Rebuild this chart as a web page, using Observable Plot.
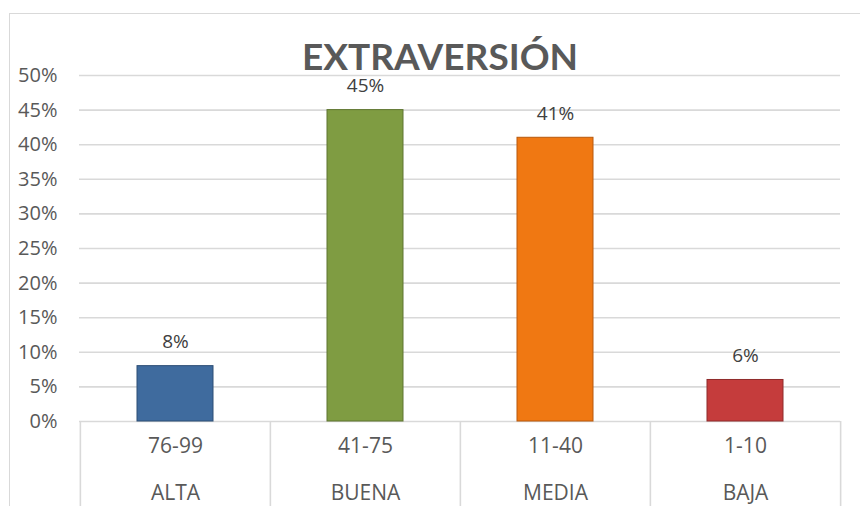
<!DOCTYPE html>
<html>
<head>
<meta charset="utf-8">
<script src="https://cdn.jsdelivr.net/npm/d3@7"></script>
<script src="https://cdn.jsdelivr.net/npm/@observablehq/plot@0.6"></script>
<style>
  html, body { margin: 0; padding: 0; background: #fff; }
  #chart { position: relative; width: 860px; height: 506px; overflow: hidden; }
  #frame { position: absolute; left: 9px; top: 13px; width: 880px; height: 520px; border: 1px solid #d9d9d9; box-sizing: border-box; }
  #chart svg { position: absolute; left: 0; top: 0; }
</style>
</head>
<body>
<div id="chart"><div id="frame"></div></div>
<script>
const levels = ["ALTA", "BUENA", "MEDIA", "BAJA"];
const ranges = ["76-99", "41-75", "11-40", "1-10"];
const values = [0.08, 0.45, 0.41, 0.06];
const fills = ["#3F6B9E", "#7F9C42", "#F07812", "#C53C3C"];
const strokes = ["#2C4E75", "#5E7530", "#B8590C", "#8E2A2A"];
const yTicks = [0, 0.05, 0.10, 0.15, 0.20, 0.25, 0.30, 0.35, 0.40, 0.45, 0.50];
const title = "EXTRAVERSIÓN";

const data = levels.map((l, i) => ({level: l, range: ranges[i], value: values[i], fill: fills[i], stroke: strokes[i]}));

const W = 860, H = 506, ML = 79, MR = 20, MT = 75, MB = 85;
const step = (W - ML - MR) / levels.length;
const font = "Open Sans, sans-serif";
const gray = "#595959";

const chart = Plot.plot({
  width: W, height: H,
  marginLeft: ML, marginRight: MR, marginTop: MT, marginBottom: MB,
  style: {fontFamily: font, background: "transparent", overflow: "visible"},
  x: {domain: levels, paddingInner: 0.6, paddingOuter: 0.3, axis: null},
  y: {domain: [0, 0.5], axis: null},
  marks: [
    Plot.ruleY(yTicks, {y: d => d, stroke: "#d9d9d9", strokeWidth: 1.6}),
    Plot.text(yTicks, {y: d => d, frameAnchor: "left", dx: -22, text: d => Math.round(d * 100) + "%", textAnchor: "end", fill: gray, fontSize: 20}),
    Plot.ruleX(levels, {x: d => d, dx: -step / 2, y1: 0, y2: -0.14, stroke: "#d9d9d9", strokeWidth: 1.6}),
    Plot.ruleX([levels[levels.length - 1]], {x: d => d, dx: step / 2, y1: 0, y2: -0.14, stroke: "#d9d9d9", strokeWidth: 1.6}),
    Plot.barY(data, {x: "level", y: "value", fill: "fill", stroke: "stroke", strokeWidth: 1}),
    Plot.text(data, {x: "level", y: "value", text: d => Math.round(d.value * 100) + "%", dy: -24, fill: "#404040", fontSize: 19}),
    Plot.text(data, {x: "level", frameAnchor: "bottom", text: "range", dy: 31, fill: gray, fontSize: 21}),
    Plot.text(data, {x: "level", frameAnchor: "bottom", text: "level", dy: 78, fill: gray, fontSize: 21}),
    Plot.text([title], {frameAnchor: "top", lineAnchor: "middle", dx: -20, dy: -17, text: d => d, fill: gray, fontSize: 37, fontWeight: "bold", fontFamily: "Lato, sans-serif"})
  ]
});
document.getElementById("chart").appendChild(chart);
</script>
</body>
</html>
